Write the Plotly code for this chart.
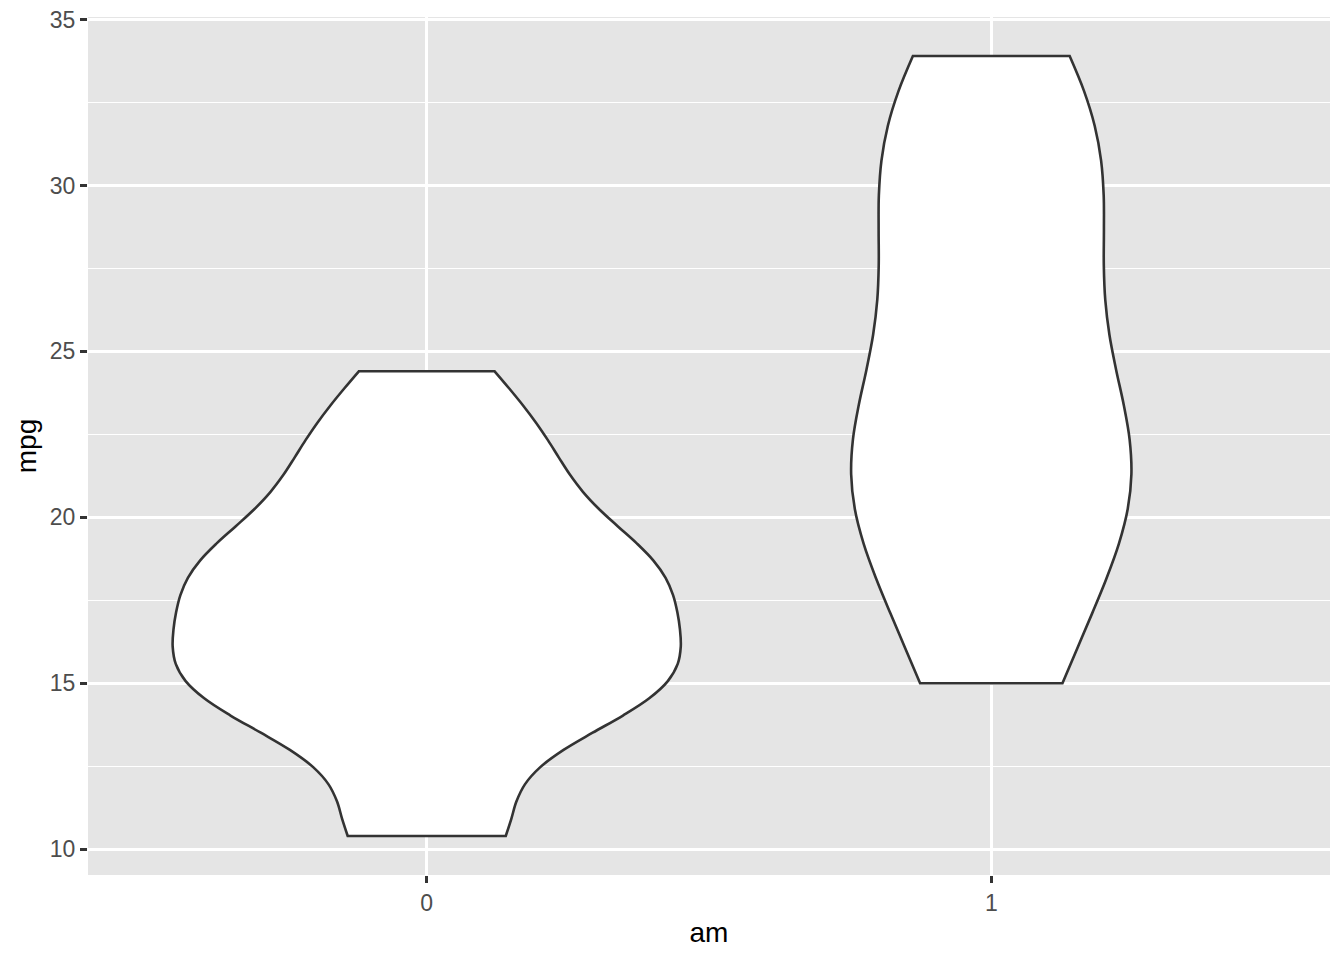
import numpy as np
import plotly.graph_objects as go

# mtcars mpg split by transmission (am)
mpg_am0 = [21.4, 18.7, 18.1, 14.3, 24.4, 22.8, 19.2, 17.8, 16.4, 17.3,
           15.2, 10.4, 10.4, 14.7, 21.5, 15.5, 15.2, 13.3, 19.2]
mpg_am1 = [21.0, 21.0, 22.8, 32.4, 30.4, 33.9, 27.3, 26.0, 30.4, 15.8,
           19.7, 15.0, 21.4]
groups = ["0", "1"]
y_ticks = [10, 15, 20, 25, 30, 35]


# R's bw.nrd0 so the shape matches ggplot's density
def nrd0(v):
    v = np.asarray(v, dtype=float)
    sd = v.std(ddof=1)
    q75, q25 = np.percentile(v, [75, 25])
    lo = min(sd, (q75 - q25) / 1.34)
    return 0.9 * lo * len(v) ** -0.2


def kde_max(v, bw):
    v = np.asarray(v, dtype=float)
    grid = np.linspace(v.min(), v.max(), 512)
    d = np.exp(-0.5 * ((grid[:, None] - v[None, :]) / bw) ** 2).sum(axis=1)
    return (d / (len(v) * bw * np.sqrt(2 * np.pi))).max()


# ggplot scale="area": widths proportional to peak density
data = [mpg_am0, mpg_am1]
bws = [nrd0(v) for v in data]
peaks = [kde_max(v, b) for v, b in zip(data, bws)]
top = max(peaks)

fig = go.Figure()
for g, vals, bw, pk in zip(groups, data, bws, peaks):
    fig.add_trace(go.Violin(
        x=[g] * len(vals), y=vals, name=g,
        bandwidth=bw, spanmode="hard",
        scalegroup="v" + g, scalemode="width", width=0.9 * pk / top,
        points=False, box_visible=False, meanline_visible=False,
        fillcolor="white", line=dict(color="#333333", width=2.6),
        hoverinfo="skip"))

font = "Liberation Sans, Arial, sans-serif"
fig.update_layout(
    width=1344, height=960, showlegend=False, violinmode="overlay",
    plot_bgcolor="#E5E5E5", paper_bgcolor="white",
    margin=dict(l=88, r=14, t=17, b=85),
    font=dict(family=font, color="#4D4D4D", size=23),
    xaxis=dict(type="category", range=[-0.6, 1.6], showgrid=True,
               gridcolor="white", gridwidth=2.6, zeroline=False, automargin=False,
               ticks="outside", ticklen=7, tickwidth=2.6, tickcolor="#333333",
               tickfont=dict(size=23, color="#4D4D4D"),
               title=dict(text="am", font=dict(size=28, color="black"), standoff=7)),
    yaxis=dict(range=[9.225, 35.075], tickvals=y_ticks, showgrid=True,
               gridcolor="white", gridwidth=2.6, zeroline=False, automargin=False,
               ticks="outside", ticklen=7, tickwidth=2.6, tickcolor="#333333",
               tickfont=dict(size=23, color="#4D4D4D"),
               minor=dict(dtick=2.5, tick0=0, showgrid=True, gridcolor="white",
                          gridwidth=1.3, ticks=""),
               title=dict(text="mpg", font=dict(size=28, color="black"), standoff=5)),
)

fig.write_html("out.html", config={"displayModeBar": False},
               post_script="document.body.style.margin='0';")
